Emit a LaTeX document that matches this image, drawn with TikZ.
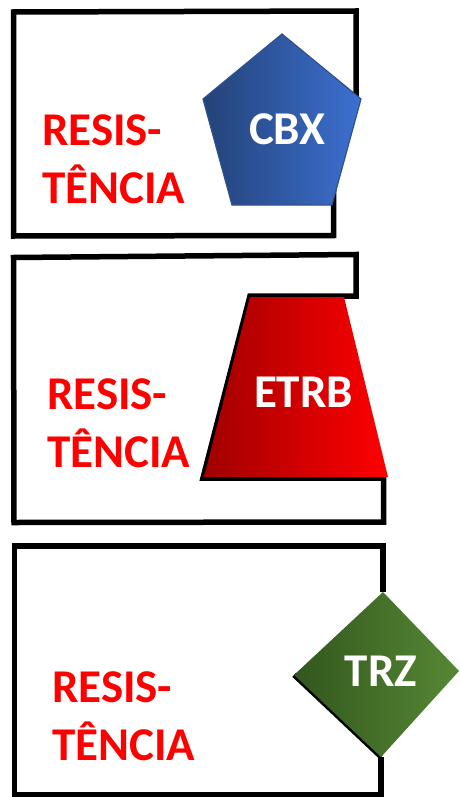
\documentclass[tikz,border=0pt]{standalone}
\usepackage{fontspec}
\setmainfont{Carlito}
\definecolor{pentL}{RGB}{36,66,120}
\definecolor{pentR}{RGB}{60,112,208}
\definecolor{pentB}{RGB}{47,82,143}
\definecolor{trapL}{RGB}{160,0,0}
\definecolor{trapR}{RGB}{255,0,0}
\definecolor{diaL}{RGB}{50,86,30}
\definecolor{diaR}{RGB}{86,136,52}
\begin{document}
\begin{tikzpicture}[x=1pt,y=-1pt,
  frame/.style={line width=5.5pt, line join=miter, draw=black},
  lab/.style={font=\bfseries\fontsize{47}{58}\selectfont, text=red, align=left, inner sep=0pt, anchor=base west},
  tag/.style={font=\bfseries\fontsize{47}{56}\selectfont, text=white, inner sep=0pt, anchor=base}]
\useasboundingbox (0,0) rectangle (460,797);

% ---- Box 1
\draw[frame] (333.5,205) -- (333.5,235.5) -- (13.5,236) -- (13.5,12) -- (356,11) -- (356,105) -- (333.5,105) -- cycle;
\path[draw=pentB, line width=1.2pt, left color=pentL, right color=pentR]
  (282,34) -- (361,99) -- (332,205) -- (232,205) -- (203,99) -- cycle;
\node[tag] (cbx) at (287,144) {CBX};
\node[lab] (r1) at (42,203) {RESIS-\\TÊNCIA};

% ---- Box 2
\draw[frame] (13.5,257.5) -- (356,254.5) -- (356,296) -- (250,296) -- (203,478) -- (383.5,478) -- (383.5,522) -- (14,522.5) -- cycle;
\path[left color=trapL, right color=trapR]
  (250,297) -- (344,297) -- (388,477) -- (204,477) -- cycle;
\node[tag] (etrb) at (303.5,407) {ETRB};
\node[lab] (r2) at (47,467) {RESIS-\\TÊNCIA};

% ---- Box 3
\draw[frame] (383,592) -- (383,546) -- (14.5,546) -- (14.5,795) -- (381,795) -- (381,757);
\draw[line width=5pt] (294,675) -- (381,757);
\path[left color=diaL, right color=diaR]
  (383,592) -- (459,671) -- (381,757) -- (294,675) -- cycle;
\node[tag] (trz) at (381,686) {TRZ};
\node[lab] (r3) at (52,760) {RESIS-\\TÊNCIA};
\end{tikzpicture}
\end{document}
